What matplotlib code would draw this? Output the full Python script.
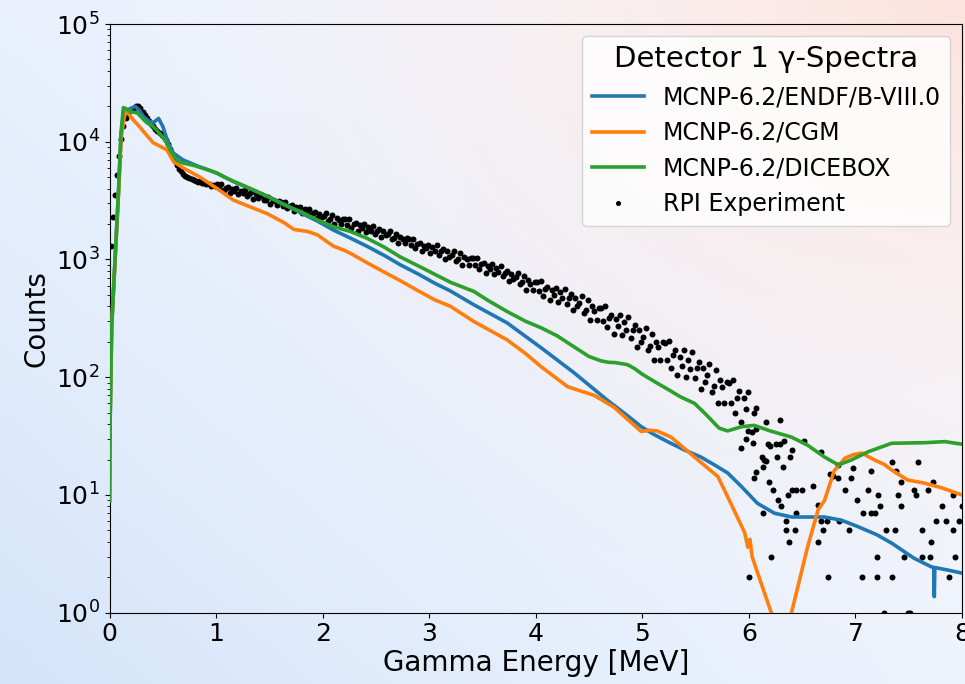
import numpy as np
import matplotlib
matplotlib.use('Agg')
import matplotlib.pyplot as plt
from matplotlib.colors import to_rgb

# simulated spectra (MeV, counts)
endf_e = [0.0, 0.005, 0.02, 0.05, 0.085, 0.107, 0.13, 0.16, 0.2, 0.24, 0.28, 0.32, 0.37, 0.41,
          0.46, 0.5, 0.55, 0.6, 0.69, 0.85, 1.01, 1.16, 1.32, 1.48, 1.64, 1.79, 1.95, 2.1, 2.26,
          2.42, 2.58, 2.73, 2.9, 3.05, 3.2, 3.42, 3.73, 4.05, 4.36, 4.67, 4.85, 4.99, 5.1, 5.24,
          5.4, 5.55, 5.7, 5.8, 5.93, 6.08, 6.24, 6.4, 6.71, 6.87, 7.02, 7.2, 7.34, 7.55, 7.71,
          7.735, 7.74, 7.745, 7.87, 8.0]
endf_c = [9, 40, 270, 930, 3900, 11000, 17000, 18500, 19200, 20000, 18500, 16300, 15000, 14500,
          15800, 13500, 9800, 8000, 7000, 6100, 5400, 4600, 4000, 3450, 2950, 2500, 2120, 1780, 1520,
          1290, 1080, 900, 750, 630, 540, 412, 290, 178, 109, 64, 48, 38, 33, 28.3,
          24, 21, 17.5, 15.4, 11.8, 8.5, 7.0, 6.5, 6.5, 6.1, 5.4, 4.6, 3.9, 2.9, 2.46,
          2.42, 1.37, 2.42, 2.3, 2.17]

cgm_e = [0.0, 0.005, 0.02, 0.05, 0.085, 0.11, 0.14, 0.16, 0.19, 0.22, 0.27, 0.32, 0.41, 0.48,
         0.54, 0.6, 0.69, 0.85, 1.01, 1.16, 1.32, 1.48, 1.64, 1.73, 1.86, 1.95, 2.1, 2.2, 2.26,
         2.42, 2.58, 2.73, 2.9, 3.05, 3.2, 3.42, 3.57, 3.73, 3.9, 4.05, 4.3, 4.45, 4.55, 4.73,
         4.99, 5.07, 5.14, 5.27, 5.49, 5.71, 5.83, 5.96, 5.99, 6.01, 6.03, 6.05, 6.21, 6.3, 6.4,
         6.55, 6.65, 6.71, 6.8, 6.9, 6.98, 7.06, 7.18, 7.27, 7.34, 7.49, 7.65, 7.81, 8.0]
cgm_c = [9, 40, 270, 900, 3800, 11000, 16500, 18000, 16800, 15400, 13800, 12200, 9800, 9100,
         8500, 6800, 6000, 5000, 4000, 3200, 2800, 2450, 2050, 1800, 1730, 1620, 1300, 1200, 1130,
         935, 780, 660, 540, 455, 400, 297, 250, 208, 160, 123, 83, 75, 70, 56,
         34.6, 35.5, 35, 31, 21, 14.3, 8.5, 4.8, 3.6, 4.2, 3.0, 2.65, 1.0, 0.3, 1.0,
         3.6, 7.5, 9, 16, 20.5, 22, 22.7, 19.8, 18.2, 16.3, 13.4, 12.6, 11.5, 10]

dice_e = [0.0, 0.005, 0.02, 0.05, 0.085, 0.107, 0.13, 0.16, 0.195, 0.26, 0.35, 0.41, 0.48, 0.52,
          0.57, 0.63, 0.69, 0.79, 0.92, 1.01, 1.1, 1.32, 1.48, 1.64, 1.79, 1.95, 2.1, 2.26, 2.42,
          2.58, 2.73, 2.9, 3.05, 3.2, 3.3, 3.42, 3.55, 3.73, 3.9, 4.05, 4.2, 4.36, 4.5, 4.61,
          4.68, 4.75, 4.86, 4.93, 5.0, 5.14, 5.25, 5.36, 5.49, 5.6, 5.72, 5.8, 5.93, 6.05, 6.2,
          6.4, 6.55, 6.71, 6.84, 6.96, 7.12, 7.34, 7.65, 7.84, 8.0]
dice_c = [9, 40, 270, 930, 3900, 11800, 19500, 19000, 18000, 17600, 14500, 13500, 11500, 10400,
          8500, 7000, 6600, 6300, 5800, 5400, 4900, 4000, 3450, 2900, 2560, 2170, 1900, 1730, 1510,
          1270, 1050, 880, 750, 640, 590, 535, 450, 362, 300, 263, 225, 181, 150, 138,
          134, 133, 128, 118, 106, 89, 78, 68, 60, 48, 37, 35, 38, 39, 35,
          31, 26.5, 21, 18, 19.8, 23.3, 27.5, 27.8, 28.4, 27]

# RPI measurement, 20 keV bins from 0.01 to 5.99 MeV
rpi_band_e = np.round(np.arange(0.01, 6.0, 0.02), 2)
rpi_band_c = [
    1300, 2300, 3500, 5200, 7500, 10500, 13500, 16000, 17500, 18500,
    19000, 19500, 20000, 20200, 19500, 18000, 17000, 16000, 15000, 14200,
    13500, 12900, 12400, 11900, 11400, 10900, 10300, 9500, 8700, 7800,
    6900, 6300, 5900, 5600, 5350, 5150, 5000, 4900, 4800, 4700,
    4650, 4550, 4600, 4450, 4500, 4350, 4400, 4250, 4300, 4200,
    4350, 4020, 4350, 3860, 4060, 4120, 3660, 3980, 3800, 4030,
    3590, 3850, 3660, 3920, 3490, 3630, 3720, 3290, 3580, 3350,
    3430, 3540, 3170, 3210, 3400, 2960, 3230, 3120, 2910, 3140,
    3100, 2860, 3080, 2730, 2870, 2900, 2580, 2790, 2660, 2810,
    2490, 2670, 2540, 2710, 2410, 2500, 2550, 2260, 2450, 2290,
    2360, 2490, 2140, 2190, 2390, 1990, 2250, 2160, 1990, 2220,
    2190, 1970, 2190, 1850, 1990, 2040, 1750, 1950, 1840, 1990,
    1710, 1870, 1760, 1930, 1660, 1750, 1810, 1550, 1740, 1600,
    1640, 1730, 1490, 1520, 1660, 1380, 1560, 1490, 1370, 1530,
    1490, 1340, 1490, 1260, 1350, 1380, 1180, 1310, 1240, 1330,
    1130, 1270, 1180, 1320, 1100, 1180, 1230, 1010, 1170, 1050,
    1100, 1180, 980, 1015, 1125, 905, 1050, 1000, 905, 1035,
    1020, 900, 1030, 830, 910, 940, 775, 885, 825, 910,
    750, 840, 780, 875, 725, 770, 805, 660, 760, 685,
    715, 775, 620, 645, 730, 555, 665, 625, 550, 650,
    645, 540, 655, 490, 560, 585, 450, 550, 495, 575,
    435, 525, 470, 565, 420, 470, 510, 370, 470, 400,
    430, 490, 350, 375, 450, 305, 400, 365, 305, 390,
    385, 300, 400, 265, 320, 340, 235, 310, 270, 335,
    230, 295, 250, 325, 215, 250, 280, 180, 250, 200,
    220, 260, 170, 185, 235, 140, 200, 180, 140, 200,
    195, 140, 205, 120, 155, 170, 105, 150, 125, 170,
    100, 140, 117, 163, 98, 120, 135, 80, 120, 91,
    104, 129, 75, 84, 115, 60, 94, 82, 60, 92,
    90, 60, 95, 50, 67, 76, 42, 66, 54, 75,
]
# sparse high-energy tail
rpi_tail_e = [6.07, 6.05, 6.16, 6.29, 5.99, 6.03, 6.07, 5.97, 5.93, 6.04, 6.18, 6.2, 6.25, 6.29,
              6.33, 6.52, 6.12, 6.14, 6.16, 6.26, 6.39, 6.4, 6.68, 6.07, 6.13, 6.32, 6.05, 6.19,
              6.23, 6.37, 6.4, 6.44, 6.5, 6.6, 6.27, 6.3, 6.13, 6.44, 6.35, 6.35, 6.43, 6.68,
              6.73, 6.7, 6.38, 6.65, 6.21, 6.0, 6.74, 6.84, 6.76, 6.79, 6.98, 6.96, 6.9, 7.01,
              7.07, 7.15, 7.18, 7.23, 6.85, 6.94, 7.2, 7.06, 7.2, 7.34, 7.12, 7.21, 7.15, 7.34,
              7.38, 7.43, 7.4, 7.43, 7.29, 7.37, 7.46, 7.62, 7.7, 7.55, 7.57, 7.59, 7.73, 7.68,
              7.81, 7.76, 7.85, 7.97, 7.62, 7.92, 7.71, 7.93, 7.88, 7.92, 8.0, 7.27, 7.49, 7.51,
              6.65, 6.84]
rpi_tail_c = [55, 50, 42, 43, 35, 34, 36, 30, 25, 27.6, 27, 26, 27, 27,
              28.5, 29, 21, 20, 19.5, 21, 21, 24, 23, 15.8, 17.4, 17.4, 14, 13,
              11, 10, 11, 11, 11, 12, 9, 8, 7, 7, 6, 5, 5, 6,
              6, 5, 4, 4, 3, 2, 2, 18, 15, 14.5, 17, 14, 11, 9,
              7, 7, 7, 8, 6, 5, 3, 2, 2, 2, 11, 10, 16, 19,
              16, 13, 10, 8, 5, 5, 3, 3, 3, 11, 10, 19, 13, 11,
              8, 6, 6, 6, 5, 5, 4, 3, 2, 10, 8, 1, 1, 1,
              8.2, 14]

fig = plt.figure(figsize=(9.65, 6.84), dpi=100)
fig.patch.set_alpha(0)

# light blue from the lower left, white middle, pink glow top right
bg = fig.add_axes([0, 0, 1, 1], zorder=-10)
bg.axis('off')
blue0, white = np.array(to_rgb('#d3e3fa')), np.array(to_rgb('#f8fafe'))
pink = np.array(to_rgb('#fde3de'))
gx, gy = np.meshgrid(np.linspace(0, 1, 240), np.linspace(0, 1, 240))
s = (np.clip(0.62 * gx + 0.5 * gy, 0, 1) ** 0.75)[..., None]
base = blue0 + (white - blue0) * s
d = np.sqrt(((1 - gx) * 1.1) ** 2 + (1 - gy) ** 2)
w = (np.clip(1 - d / 1.05, 0, 1) ** 1.6)[..., None]
img = base * (1 - w) + pink * w
bg.imshow(img, origin='lower', extent=[0, 1, 0, 1], aspect='auto')
bg.set_xlim(0, 1)
bg.set_ylim(0, 1)

ax = fig.add_axes([0.1135, 0.1042, 0.8834, 0.8607])
ax.set_facecolor('none')
ax.plot(endf_e, endf_c, color='tab:blue', lw=2.6, label='MCNP-6.2/ENDF/B-VIII.0', zorder=3)
ax.plot(cgm_e, cgm_c, color='tab:orange', lw=2.6, label='MCNP-6.2/CGM', zorder=3)
ax.plot(dice_e, dice_c, color='tab:green', lw=2.6, label='MCNP-6.2/DICEBOX', zorder=3)
ax.plot(list(rpi_band_e) + rpi_tail_e, rpi_band_c + rpi_tail_c, 'o', ms=4.3, color='k',
        mew=0, label='RPI Experiment', zorder=2)

ax.set_yscale('log')
ax.set_xlim(0, 8)
ax.set_ylim(1, 1e5)
ax.set_xticks(range(9))
ax.tick_params(labelsize=18)
ax.set_xlabel('Gamma Energy [MeV]', fontsize=20, labelpad=2)
ax.set_ylabel('Counts', fontsize=20, labelpad=4)

leg = ax.legend(title='Detector 1 γ-Spectra', fontsize=17, title_fontsize=21,
                loc='upper right', handlelength=2.2, markerscale=0.85)

fig.savefig('out.png', dpi=100)
